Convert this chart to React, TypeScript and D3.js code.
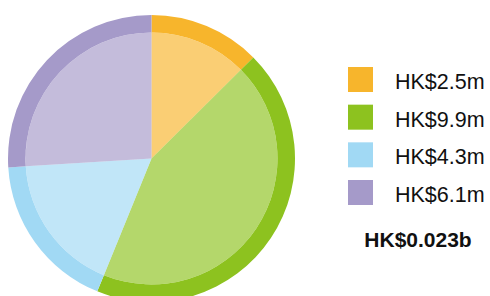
import { useEffect, useRef } from 'react';
import * as d3 from 'd3';

// slice sizes (HK$ m)
const categories = ['A', 'B', 'C', 'D'];
const sliceValues = [2.85, 9.9, 4.05, 5.9];
const legendLabels = ['HK$2.5m', 'HK$9.9m', 'HK$4.3m', 'HK$6.1m'];
const totalLabel = 'HK$0.023b';
const colors = ['#f7b52c', '#8dc21f', '#a1d9f4', '#a59ac9'];

export default function App() {
  const svgRef = useRef<SVGSVGElement>(null);

  useEffect(() => {
    if (!svgRef.current) return;
    const svg = d3.select(svgRef.current);
    svg.selectAll('*').remove();

    const cx = 151.5;
    const cy = 158.5;
    const outerR = 143.5;
    const innerR = 126;

    const data = categories.map((c, i) => ({ key: c, value: sliceValues[i], color: colors[i] }));

    const pie = d3.pie<{ key: string; value: number; color: string }>()
      .sort(null)
      .value(d => d.value);
    const arcs = pie(data);

    const ring = d3.arc<d3.PieArcDatum<{ key: string; value: number; color: string }>>()
      .innerRadius(innerR)
      .outerRadius(outerR);
    const fill = d3.arc<d3.PieArcDatum<{ key: string; value: number; color: string }>>()
      .innerRadius(0)
      .outerRadius(innerR);

    const g = svg.append('g').attr('transform', `translate(${cx},${cy})`);

    g.selectAll('.ring')
      .data(arcs)
      .enter()
      .append('path')
      .attr('class', 'ring')
      .attr('d', ring)
      .attr('fill', d => d.data.color);

    g.selectAll('.fill')
      .data(arcs)
      .enter()
      .append('path')
      .attr('class', 'fill')
      .attr('d', fill)
      .attr('fill', d => d.data.color)
      .attr('fill-opacity', 0.66);

    // Legend
    const legendY = d3.scaleLinear().domain([0, 3]).range([67, 180]);
    const legend = svg.append('g');
    legendLabels.forEach((label, i) => {
      const row = legend.append('g').attr('transform', `translate(348,${legendY(i)})`);
      row.append('rect')
        .attr('width', 25)
        .attr('height', 25)
        .attr('fill', colors[i]);
      row.append('text')
        .attr('x', 47)
        .attr('y', 22)
        .attr('font-family', 'Liberation Sans, Arial, sans-serif')
        .attr('font-size', '21.5px')
        .attr('fill', '#111')
        .text(label);
    });

    svg.append('text')
      .attr('x', 418)
      .attr('y', 246.5)
      .attr('text-anchor', 'middle')
      .attr('font-family', 'Liberation Sans, Arial, sans-serif')
      .attr('font-size', '21px')
      .attr('font-weight', 'bold')
      .attr('fill', '#111')
      .text(totalLabel);
  }, []);

  return (
    <svg
      ref={svgRef}
      width={490}
      height={296}
      style={{ position: 'absolute', left: 0, top: 0, display: 'block', background: '#fff' }}
    />
  );
}
